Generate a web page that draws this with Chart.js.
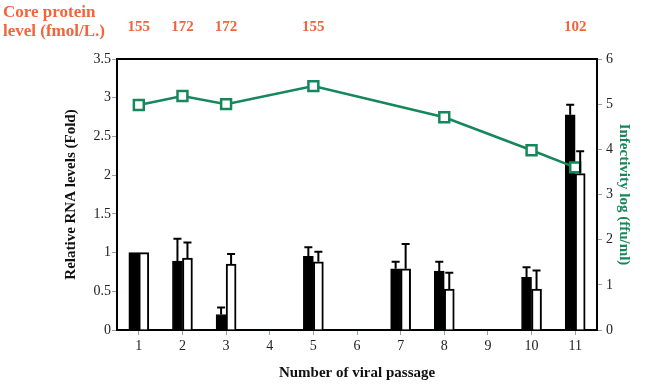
<!DOCTYPE html>
<html>
<head>
<meta charset="utf-8">
<script src="https://cdn.jsdelivr.net/npm/chart.js@4.4.1/dist/chart.umd.min.js"></script>
<style>
  html, body { margin: 0; padding: 0; background: #fff; }
  #wrap { width: 648px; height: 386px; }
</style>
</head>
<body>
<div id="wrap"><canvas id="chart" width="648" height="386"></canvas></div>
<script>
const passages = ['1', '2', '3', '4', '5', '6', '7', '8', '9', '10', '11'];
const rnaBlack = [1.0, 0.89, 0.2, null, 0.95, null, 0.79, 0.76, null, 0.68, 2.78];
const rnaBlackErr = [1.0, 1.18, 0.29, null, 1.07, null, 0.88, 0.88, null, 0.81, 2.91];
const rnaWhite = [1.0, 0.93, 0.85, null, 0.88, null, 0.79, 0.53, null, 0.53, 2.02];
const rnaWhiteErr = [1.0, 1.13, 0.98, null, 1.01, null, 1.11, 0.74, null, 0.77, 2.31];
const infectivity = [4.98, 5.18, 5.0, null, 5.4, null, null, 4.71, null, 3.98, 3.6];
const coreProtein = [155, 172, 172, null, 155, null, null, null, null, null, 102];
const leftTicks = [0, 0.5, 1, 1.5, 2, 2.5, 3, 3.5];
const rightTicks = [0, 1, 2, 3, 4, 5, 6];

const serif = "'Liberation Serif', 'DejaVu Serif', serif";
const green = '#16875a';
const orange = '#f2643a';
const tickMark = '#8fa3b3';

const extras = {
    id: 'extras',
    afterDatasetsDraw(chart) {
        const ctx = chart.ctx;
        const area = chart.chartArea;
        const y = chart.scales.y;
        const x = chart.scales.x;

        // error bars (upward only)
        [[0, rnaBlack, rnaBlackErr], [1, rnaWhite, rnaWhiteErr]].forEach(([idx, vals, errs]) => {
            const meta = chart.getDatasetMeta(idx);
            ctx.save();
            ctx.strokeStyle = '#000';
            ctx.lineWidth = 2;
            vals.forEach((v, i) => {
                if (v === null || errs[i] === null || errs[i] <= v) return;
                const bar = meta.data[i];
                const top = y.getPixelForValue(errs[i]);
                const base = y.getPixelForValue(v);
                ctx.beginPath();
                ctx.moveTo(bar.x, base);
                ctx.lineTo(bar.x, top);
                ctx.moveTo(bar.x - 4, top);
                ctx.lineTo(bar.x + 4, top);
                ctx.stroke();
            });
            ctx.restore();
        });

        // top frame line
        ctx.save();
        ctx.strokeStyle = '#000';
        ctx.lineWidth = 2;
        ctx.beginPath();
        ctx.moveTo(area.left - 1, area.top);
        ctx.lineTo(area.right + 1, area.top);
        ctx.stroke();
        ctx.restore();

        // core protein labels
        ctx.save();
        ctx.fillStyle = orange;
        ctx.font = "bold 17px " + serif;
        ctx.textAlign = 'left';
        ctx.textBaseline = 'middle';
        ctx.fillText('Core protein', 3, 13);
        ctx.fillText('level (fmol/L.)', 3, 32);
        ctx.font = "bold 15px " + serif;
        ctx.textAlign = 'center';
        coreProtein.forEach((v, i) => {
            if (v === null) return;
            ctx.fillText(String(v), x.getPixelForValue(i), 27);
        });
        ctx.restore();
    }
};

new Chart(document.getElementById('chart'), {
    type: 'bar',
    data: {
        labels: passages,
        datasets: [
            {
                label: 'RNA (black)',
                data: rnaBlack,
                backgroundColor: '#000',
                borderColor: '#000',
                borderWidth: 1,
                barThickness: 10,
                yAxisID: 'y',
                order: 1
            },
            {
                label: 'RNA (white)',
                data: rnaWhite,
                backgroundColor: '#fff',
                borderColor: '#000',
                borderWidth: 2,
                barThickness: 10,
                yAxisID: 'y',
                order: 1
            },
            {
                type: 'line',
                label: 'Infectivity',
                data: infectivity,
                spanGaps: true,
                borderColor: green,
                borderWidth: 2.5,
                pointStyle: 'rect',
                pointRadius: 7,
                pointBorderWidth: 2.5,
                pointBorderColor: green,
                pointBackgroundColor: '#fff',
                tension: 0,
                yAxisID: 'y1',
                order: 0
            }
        ]
    },
    options: {
        responsive: false,
        devicePixelRatio: 1,
        animation: false,
        layout: { padding: { top: 59, left: 0, right: 0, bottom: 0 } },
        plugins: {
            legend: { display: false },
            tooltip: { enabled: false }
        },
        scales: {
            x: {
                offset: true,
                grid: { drawOnChartArea: false, color: tickMark, tickLength: 5, offset: false },
                border: { display: true, color: '#000', width: 2 },
                ticks: { color: '#222', font: { family: serif, size: 14 }, padding: 3, maxRotation: 0 },
                title: {
                    display: true,
                    text: 'Number of viral passage',
                    color: '#111',
                    font: { family: serif, size: 15, weight: 'bold' },
                    padding: { top: 0, bottom: 4 }
                },
                afterFit: (scale) => { scale.height = 56; }
            },
            y: {
                position: 'left',
                min: 0,
                max: 3.5,
                afterBuildTicks: (scale) => { scale.ticks = leftTicks.map((v) => ({ value: v })); },
                grid: { drawOnChartArea: false, color: tickMark, tickLength: 5 },
                border: { display: true, color: '#000', width: 2 },
                ticks: {
                    color: '#222',
                    font: { family: serif, size: 14 },
                    padding: 1,
                    callback: (value) => String(value)
                },
                title: {
                    display: true,
                    text: 'Relative RNA levels (Fold)',
                    color: '#111',
                    font: { family: serif, size: 15, weight: 'bold' },
                    padding: { top: 62, bottom: 0 }
                },
                afterFit: (scale) => { scale.width = 117; }
            },
            y1: {
                position: 'right',
                min: 0,
                max: 6,
                afterBuildTicks: (scale) => { scale.ticks = rightTicks.map((v) => ({ value: v })); },
                grid: { drawOnChartArea: false, color: tickMark, tickLength: 5 },
                border: { display: true, color: '#000', width: 2 },
                ticks: {
                    color: '#222',
                    font: { family: serif, size: 14 },
                    padding: 4,
                    callback: (value) => String(value)
                },
                title: {
                    display: true,
                    text: 'Infectivity log (ffu/ml)',
                    color: green,
                    font: { family: serif, size: 15, weight: 'bold' },
                    padding: { top: 15, bottom: 0 }
                },
                afterFit: (scale) => { scale.width = 51; }
            }
        }
    },
    plugins: [extras]
});
</script>
</body>
</html>
